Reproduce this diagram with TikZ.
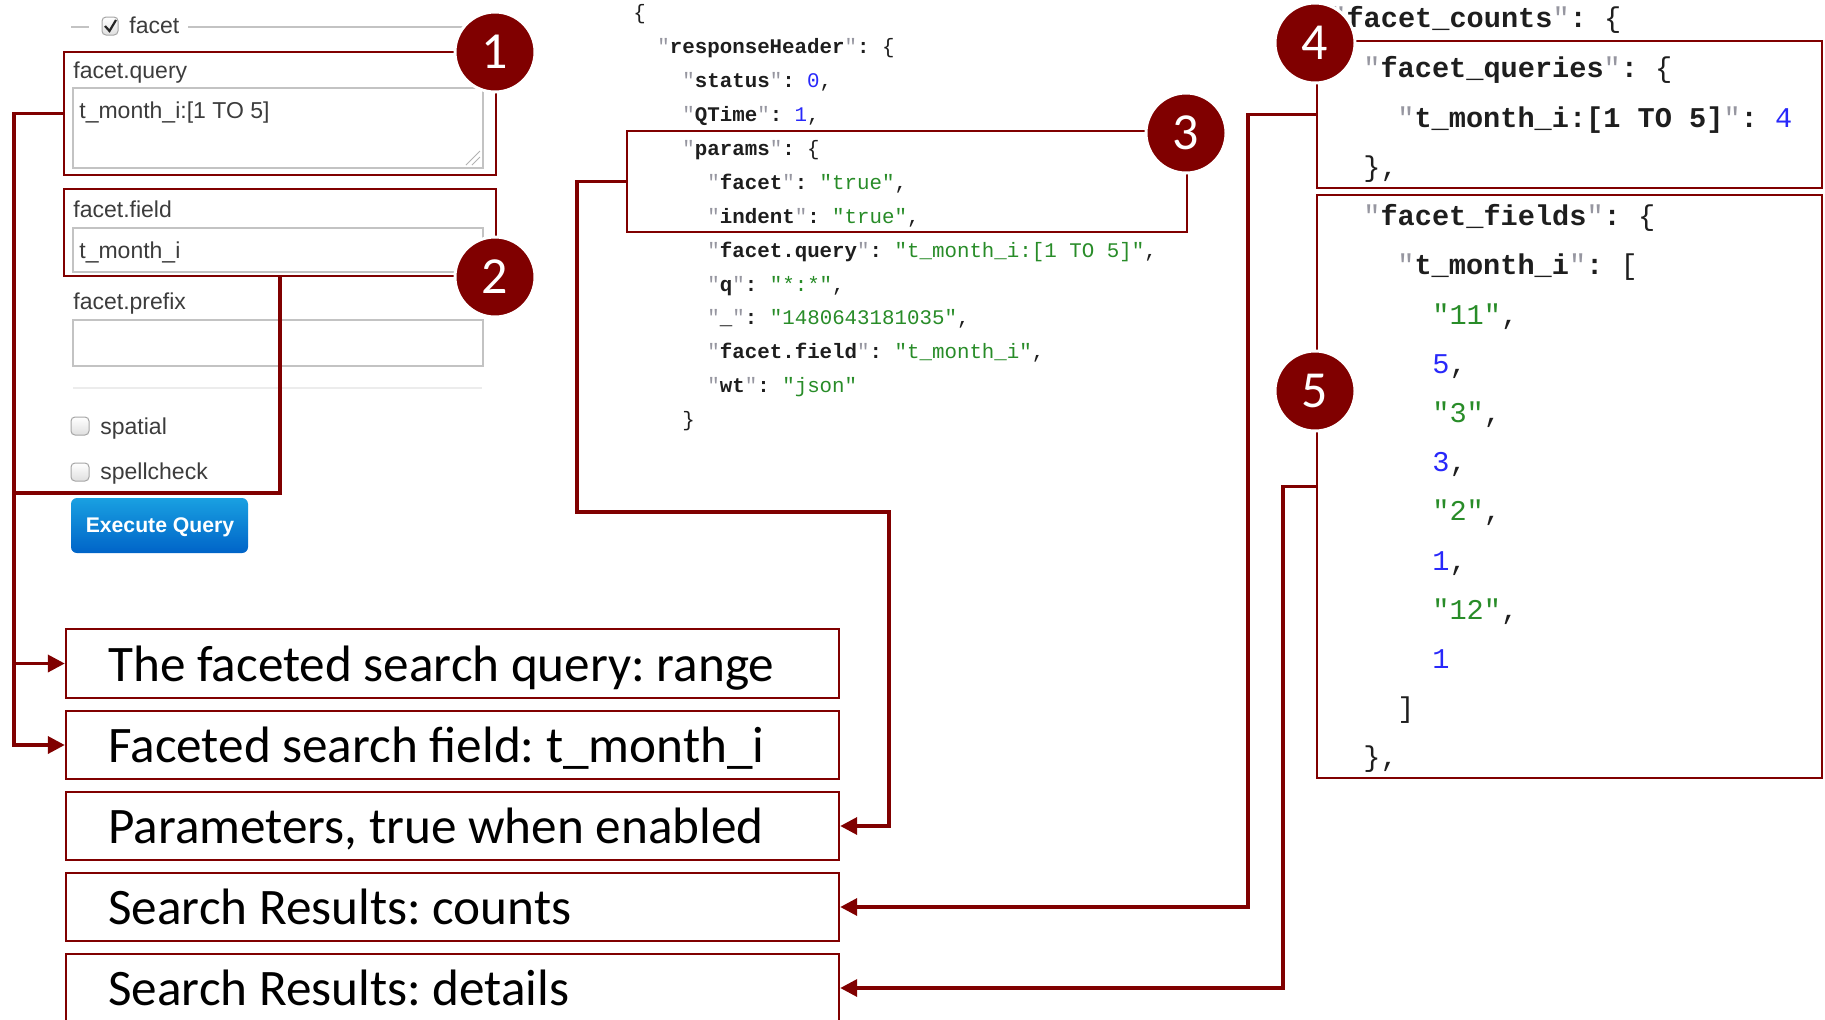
\documentclass[tikz,border=0pt]{standalone}
\usepackage{fontspec}
\setmainfont{Carlito}
\setmonofont{Liberation Mono}
\newfontfamily\uif{Liberation Sans}
\usetikzlibrary{arrows.meta,fit}
\definecolor{dred}{RGB}{128,0,0}
\definecolor{qgray}{RGB}{150,150,160}
\definecolor{jgreen}{RGB}{40,140,40}
\definecolor{jblue}{RGB}{40,40,250}
\definecolor{jdark}{RGB}{30,30,30}
\definecolor{uitxt}{RGB}{60,60,60}
\definecolor{uibord}{RGB}{195,195,195}
\definecolor{btop}{RGB}{25,160,225}
\definecolor{bbot}{RGB}{0,100,200}
\newcommand\jk[1]{{\color{qgray}"}\textbf{#1}{\color{qgray}"}\textbf{:}}
\newcommand\js[1]{{\color{jgreen}"#1"}}
\newcommand\jn[1]{{\color{jblue}#1}}
\frenchspacing
\begin{document}
\begin{tikzpicture}[x=0.5pt,y=-0.5pt,
  redbox/.style={draw=dred,line width=1.2pt,inner sep=0pt},
  lblbox/.style={draw=dred,line width=1.2pt,inner sep=0pt,fill=white},
  conn/.style={draw=dred,line width=1.8pt},
  arr/.style={conn,-{Triangle[length=8.5pt,width=8.5pt]}},
  circ/.style={circle,fill=dred,draw=white,line width=1.5pt,minimum size=40pt,inner sep=0pt,text=white,font=\fontsize{26}{26}\selectfont},
  lbltxt/.style={anchor=base west,inner sep=0pt,font=\fontsize{25.6}{26}\selectfont},
  uitext/.style={anchor=base west,inner sep=0pt,text=uitxt,font=\uif\fontsize{11.5}{12}\selectfont},
  midjs/.style={anchor=base west,inner sep=0pt,text=jdark,font=\ttfamily\fontsize{10.4}{11}\selectfont},
  rjs/.style={anchor=base west,inner sep=0pt,text=jdark,font=\ttfamily\fontsize{14.3}{15}\selectfont},
  field/.style={draw=uibord,line width=0.8pt,fill=white},
  uiline/.style={draw=uibord,line width=0.6pt},
  cbox/.style={draw=gray!70,line width=0.5pt,rounded corners=2pt,top color=white,bottom color=gray!25},
]
\useasboundingbox (0,0) rectangle (1825,1019);
\fill[white] (0,0) rectangle (1825,1019);

% ---------- form ----------
\draw[uiline] (71,27) -- (89,27);
\draw[uiline] (188,27) -- (483,27);
\draw[cbox] (102,17) rectangle (118,35);
\draw[line width=1.1pt,gray!30!black] (105,26) -- (109.5,31) -- (116,20);
\node[uitext] (ffacet) at (129,33) {facet};

\node[uitext] (lq) at (73,78) {facet.query};
\draw[field] (73,88) rectangle (483,168);
\node[uitext] (vq) at (79,118) {t\_month\_i:[1 TO 5]};
\draw[gray!60,line width=0.5pt] (466,165) -- (480,151) (472,165) -- (480,157);

\node[uitext] (lf) at (73,217) {facet.field};
\draw[field] (73,228) rectangle (483,272);
\node[uitext] (vf) at (79,258) {t\_month\_i};

\node[uitext] (lp) at (73,309) {facet.prefix};
\draw[field] (73,320) rectangle (483,366);
\draw[gray!15,line width=0.8pt] (73,388) -- (482,388);

\draw[cbox] (71,417) rectangle (89,435);
\node[uitext] (lsp) at (100,434) {spatial};
\draw[cbox] (71,463) rectangle (89,481);
\node[uitext] (lsc) at (100,479) {spellcheck};

\shade[rounded corners=3pt,top color=btop,bottom color=bbot] (71,498) rectangle (248,553);
\node[anchor=base,inner sep=0pt,text=white,font=\uif\bfseries\fontsize{10.6}{11}\selectfont] (exq) at (160,532) {Execute Query};

% ---------- middle JSON ----------
\node[midjs] (m0) at (633,19) {\{};
\node[midjs] (m1) at (657,53) {\jk{responseHeader} \{};
\node[midjs] (m2) at (682,87) {\jk{status} \jn{0},};
\node[midjs] (m3) at (682,121) {\jk{QTime} \jn{1},};
\node[midjs] (m4) at (682,155) {\jk{params} \{};
\node[midjs] (m5) at (707,189) {\jk{facet} \js{true},};
\node[midjs] (m6) at (707,223) {\jk{indent} \js{true},};
\node[midjs] (m7) at (707,257) {\jk{facet.query} \js{t\_month\_i:[1 TO 5]},};
\node[midjs] (m8) at (707,291) {\jk{q} \js{*:*},};
\node[midjs] (m9) at (707,324) {\jk{\_} \js{1480643181035},};
\node[midjs] (m10) at (707,358) {\jk{facet.field} \js{t\_month\_i},};
\node[midjs] (m11) at (707,392) {\jk{wt} \js{json}};
\node[midjs] (m12) at (682,426) {\}};

% ---------- right JSON ----------
\node[rjs] (r0) at (1329,27) {\jk{facet\_counts} \{};
\node[rjs] (r1) at (1363,77) {\jk{facet\_queries} \{};
\node[rjs] (r2) at (1397,127) {\jk{t\_month\_i:[1 TO 5]} \jn{4}};
\node[rjs] (r3) at (1363,176) {\},};
\node[rjs] (r4) at (1363,225) {\jk{facet\_fields} \{};
\node[rjs] (r5) at (1397,274) {\jk{t\_month\_i} [};
\node[rjs] (r6) at (1432,324) {\js{11},};
\node[rjs] (r7) at (1432,373) {\jn{5},};
\node[rjs] (r8) at (1432,422) {\js{3},};
\node[rjs] (r9) at (1432,471) {\jn{3},};
\node[rjs] (r10) at (1432,520) {\js{2},};
\node[rjs] (r11) at (1432,570) {\jn{1},};
\node[rjs] (r12) at (1432,619) {\js{12},};
\node[rjs] (r13) at (1432,668) {\jn{1}};
\node[rjs] (r14) at (1397,717) {]};
\node[rjs] (r15) at (1363,766) {\},};

% ---------- highlight boxes ----------
\node[redbox,fit={(64,52) (496,175)}] (b1) {};
\node[redbox,fit={(64,189) (496,276)}] (b2) {};
\node[redbox,fit={(627,131) (1187,232)}] (b3) {};
\node[redbox,fit={(1317,41) (1822,188)}] (b4) {};
\node[redbox,fit={(1317,195) (1822,778)}] (b5) {};

% ---------- label boxes ----------
\node[lblbox,fit={(66,629) (839,698)}] (lA) {};
\node[lblbox,fit={(66,711) (839,779)}] (lB) {};
\node[lblbox,fit={(66,792) (839,860)}] (lC) {};
\node[lblbox,fit={(66,873) (839,941)}] (lD) {};
\node[lblbox,fit={(66,954) (839,1022)}] (lE) {};
\node[lbltxt] (tA) at (108,681) {The faceted search query: range};
\node[lbltxt] (tB) at (108,762.5) {Faceted search field: t\_month\_i};
\node[lbltxt] (tC) at (108,843.5) {Parameters, true when enabled};
\node[lbltxt] (tD) at (108,924.5) {Search Results: counts};
\node[lbltxt] (tE) at (108,1005.5) {Search Results: details};

% ---------- connectors ----------
\coordinate (xl) at (14,0);
\coordinate (j2) at (280,493);
\coordinate (x3) at (577,0);
\coordinate (j3) at (889,512);
\coordinate (x4) at (1248,0);
\coordinate (x5) at (1283,0);
\draw[arr] (b1.west) -- (b1.west -| xl) |- (lA.west);
\draw[arr] (b2.south) -- (j2) -- (j2 -| xl) |- (lB.west);
\draw[arr] (b3.west) -- (b3.west -| x3) |- (j3) |- (lC.east);
\draw[arr] (b4.west) -- (b4.west -| x4) |- (lD.east);
\draw[arr] (b5.west) -- (b5.west -| x5) |- (lE.east);

% ---------- numbered circles ----------
\node[circ] (c1) at (495,52) {1};
\node[circ] (c2) at (495,277) {2};
\node[circ] (c3) at (1186,133) {3};
\node[circ] (c4) at (1315,43) {4};
\node[circ] (c5) at (1315,391) {5};
\end{tikzpicture}
\end{document}
